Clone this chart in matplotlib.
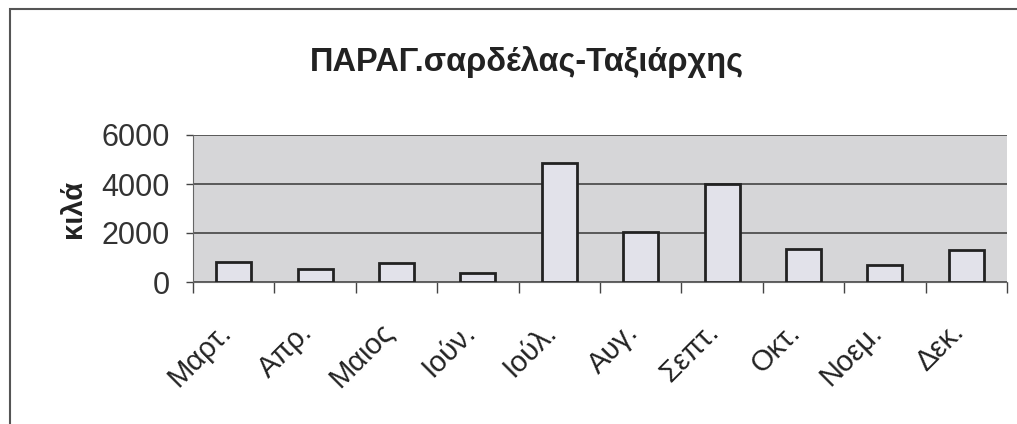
import numpy as np
import matplotlib.pyplot as plt
from matplotlib.patches import Rectangle
from matplotlib.transforms import ScaledTranslation

months = ['Μαρτ.', 'Απρ.', 'Μαιος', 'Ιούν.', 'Ιούλ.', 'Αυγ.', 'Σεπτ.', 'Οκτ.', 'Νοεμ.', 'Δεκ.']
kilos = [800, 550, 780, 370, 4850, 2050, 4000, 1350, 700, 1300]
yticks = [0, 2000, 4000, 6000]

plt.rcParams['font.family'] = ['Liberation Sans', 'DejaVu Sans']

fig = plt.figure(figsize=(10.17, 4.24), dpi=100)
fig.patch.set_facecolor('white')
fig.patches.append(Rectangle((10 / 1017, -0.05), 1.1, (424 - 9) / 424 + 0.05,
                             transform=fig.transFigure, fill=False,
                             edgecolor='#555555', linewidth=1.5))

ax = fig.add_axes([193 / 1017, 1 - 282 / 424, (1007 - 193) / 1017, (282 - 135) / 424])
ax.set_facecolor('#d6d6d8')

x = np.arange(len(months))
ax.bar(x, kilos, width=0.43, color='#e2e2ea', edgecolor='#222222', linewidth=2, zorder=3)

ax.set_xlim(-0.5, len(months) - 0.5)
ax.set_ylim(0, 6000)
ax.set_yticks(yticks)
ax.set_yticklabels([str(v) for v in yticks], fontsize=22, color='#333333')
ax.yaxis.grid(True, color='#444444', linewidth=1.2, zorder=1)
ax.set_axisbelow(True)

# category boundary ticks
ax.set_xticks(np.arange(len(months) + 1) - 0.5)
ax.set_xticklabels([])
ax.tick_params(axis='x', length=8, width=1, color='#444444', direction='out')
ax.tick_params(axis='y', length=5, width=1, color='#444444', pad=12)

# month labels, rotated, placed below the axis
shift = ScaledTranslation(-17 / 100, -36 / 100, fig.dpi_scale_trans)
for i, m in zip(x, months):
    ax.text(i, 0, m, transform=ax.get_xaxis_transform() + shift,
            rotation=45, ha='right', va='top', rotation_mode='anchor',
            fontsize=21, color='#222222')

for s in ['top', 'right']:
    ax.spines[s].set_visible(False)
ax.spines['left'].set_color('#666666')
ax.spines['bottom'].set_color('#666666')

ax.set_ylabel('κιλά', fontsize=21, fontweight='bold', color='#222222', labelpad=10)
fig.text(0.518, 1 - 62 / 424, 'ΠΑΡΑΓ.σαρδέλας-Ταξιάρχης', ha='center', va='center',
         fontsize=23.5, fontweight='bold', color='#222222')

fig.savefig('out.png', dpi=100)
